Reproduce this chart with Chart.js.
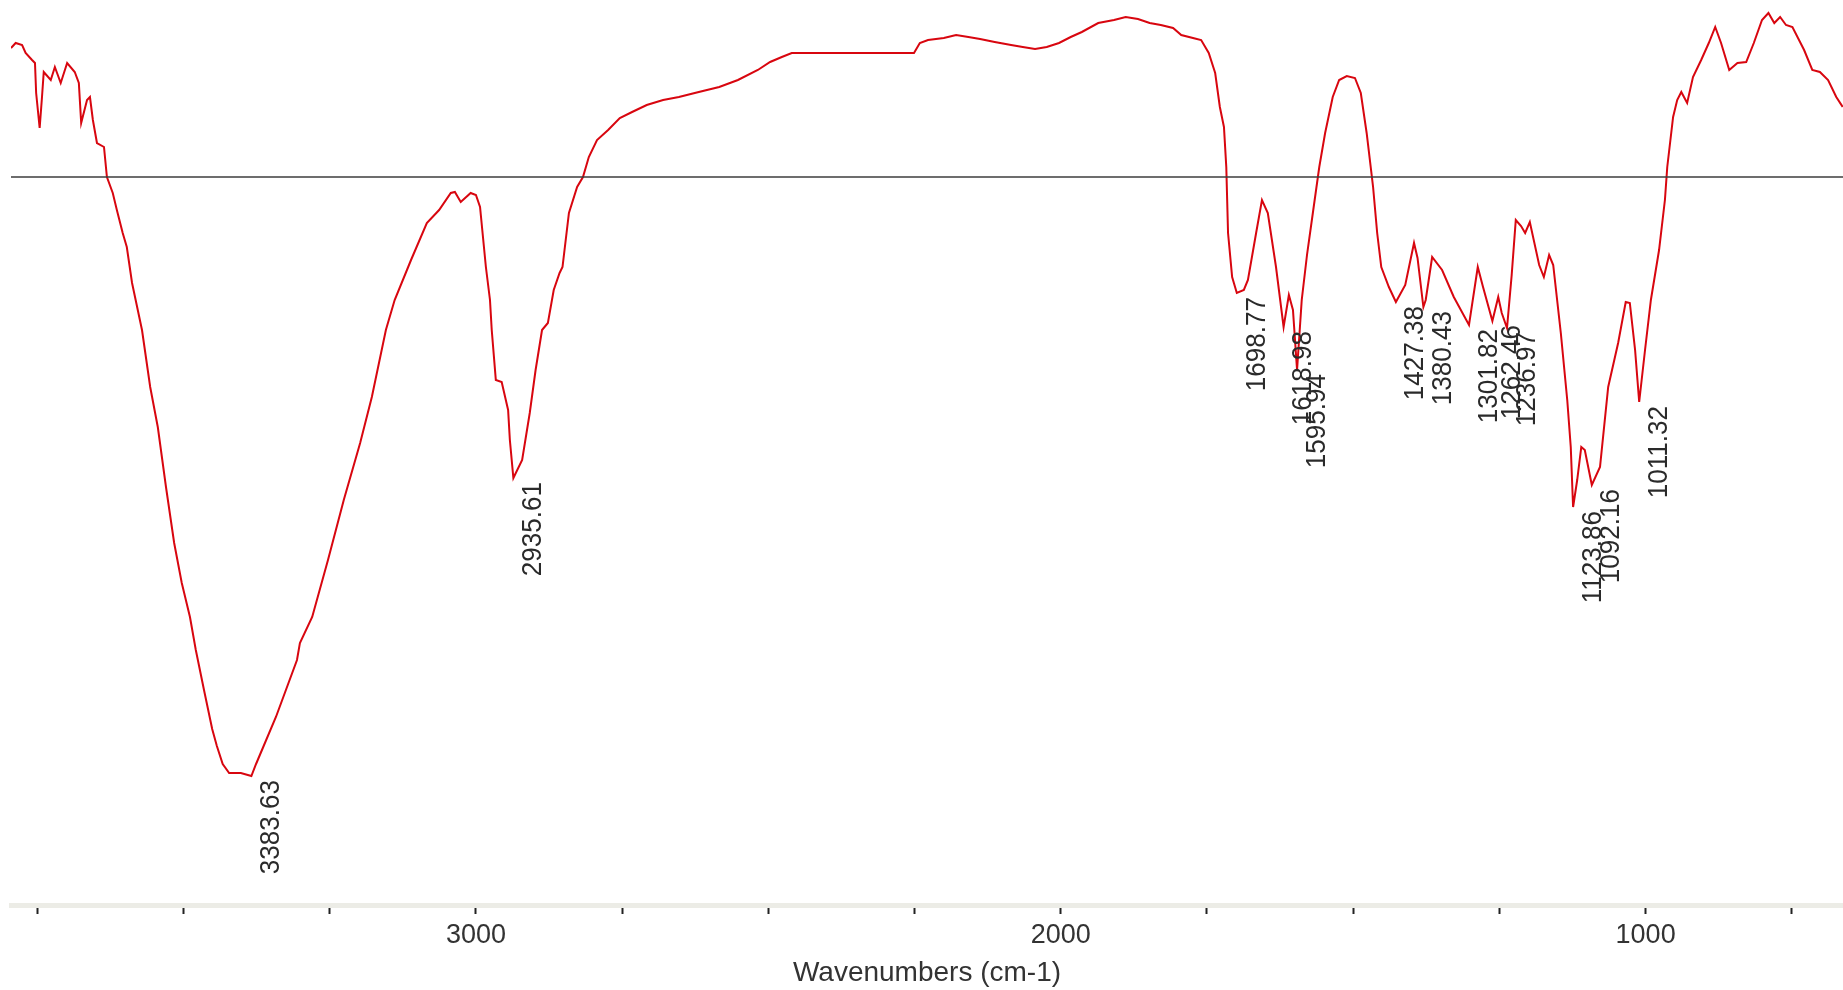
<!DOCTYPE html>
<html lang="en">
<head>
<meta charset="UTF-8">
<title>FTIR spectrum</title>
<script src="https://cdn.jsdelivr.net/npm/chart.js"></script>
<style>
  body { margin: 0; background: #ffffff; }
  #wrap { width: 1843px; height: 990px; }
</style>
</head>
<body>
<div id="wrap"><canvas id="irChart" width="1843" height="990"></canvas></div>
<script>
// spectrum, left (high wavenumber) to right
const wavenumbers = [
  3795, 3787, 3776, 3770, 3759, 3754, 3752, 3746, 3742, 3739, 3727, 3720, 3710, 3699, 3686, 3679,
  3675, 3665, 3660, 3655, 3648, 3636, 3631, 3621, 3614, 3604, 3597, 3588, 3571, 3557, 3544, 3530,
  3516, 3503, 3489, 3479, 3465, 3451, 3443, 3433, 3422, 3402, 3384, 3376, 3363, 3342, 3306, 3301,
  3280, 3253, 3226, 3198, 3178, 3154, 3139, 3111, 3084, 3063, 3043, 3036, 3026, 3009, 3000, 2993,
  2983, 2976, 2973, 2966, 2956, 2945, 2942, 2936, 2921, 2908, 2898, 2887, 2877, 2867, 2857, 2852,
  2841, 2827, 2817, 2807, 2793, 2774, 2754, 2733, 2708, 2680, 2653, 2619, 2584, 2552, 2518, 2497,
  2477, 2460, 2251, 2241, 2227, 2200, 2179, 2158, 2138, 2113, 2085, 2065, 2044, 2024, 2003, 1983,
  1964, 1936, 1909, 1889, 1868, 1848, 1829, 1808, 1794, 1774, 1760, 1747, 1736, 1728, 1721, 1717,
  1714, 1707, 1699, 1687, 1680, 1666, 1656, 1646, 1632, 1619, 1610, 1603, 1596, 1588, 1579, 1569,
  1558, 1548, 1535, 1524, 1511, 1497, 1487, 1477, 1466, 1459, 1452, 1439, 1427, 1411, 1396, 1390,
  1380, 1376, 1365, 1348, 1328, 1302, 1287, 1278, 1262, 1252, 1246, 1237, 1229, 1222, 1213, 1206,
  1198, 1182, 1174, 1165, 1158, 1145, 1134, 1128, 1124, 1117, 1110, 1104, 1092, 1078, 1064, 1047,
  1034, 1027, 1018, 1011, 1001, 991, 977, 967, 963, 953, 946, 939, 929, 919, 905, 892,
  881, 871, 857, 843, 828, 815, 801, 790, 780, 770, 760, 749, 729, 715, 702, 688,
  674, 663
];
const transmittance = [
  85.7, 86.2, 86.0, 85.2, 84.5, 84.2, 81.2, 77.7, 80.8, 83.3, 82.5, 83.8, 82.2, 84.2, 83.3, 82.2,
  78.2, 80.5, 80.8, 78.5, 76.2, 75.8, 72.8, 71.2, 69.5, 67.2, 65.8, 62.2, 57.5, 51.8, 47.8, 41.8,
  36.2, 32.2, 28.8, 25.5, 21.5, 17.6, 15.9, 14.1, 13.2, 13.2, 12.9, 14.1, 15.9, 18.8, 24.5, 26.2,
  28.8, 34.5, 40.5, 46.2, 50.8, 57.5, 60.5, 64.5, 68.2, 69.5, 71.2, 71.3, 70.3, 71.2, 71.0, 69.8,
  63.8, 60.5, 57.5, 52.5, 52.3, 49.5, 46.5, 42.7, 44.5, 49.2, 53.5, 57.5, 58.2, 61.5, 63.2, 63.8,
  69.2, 71.8, 72.8, 74.8, 76.5, 77.5, 78.7, 79.3, 80.0, 80.5, 80.8, 81.3, 81.8, 82.5, 83.5, 84.3,
  84.8, 85.2, 85.2, 86.2, 86.5, 86.7, 87.0, 86.8, 86.6, 86.3, 86.0, 85.8, 85.6, 85.8, 86.2, 86.8,
  87.3, 88.2, 88.5, 88.8, 88.6, 88.2, 88.0, 87.7, 87.0, 86.7, 86.5, 85.2, 83.2, 79.8, 77.8, 73.8,
  67.2, 62.8, 61.2, 61.5, 62.5, 67.2, 70.5, 69.2, 63.8, 57.8, 61.0, 59.5, 53.5, 60.5, 65.0, 69.2,
  73.8, 77.2, 80.8, 82.5, 82.9, 82.7, 81.2, 77.2, 71.8, 67.2, 63.8, 61.8, 60.3, 62.0, 66.2, 64.7,
  59.8, 60.5, 64.8, 63.5, 60.8, 58.0, 63.8, 61.8, 58.4, 60.8, 59.2, 57.7, 63.0, 68.5, 67.9, 67.2,
  68.3, 64.0, 62.8, 65.0, 64.0, 57.2, 50.5, 45.8, 39.8, 42.5, 45.8, 45.5, 42.0, 43.8, 51.8, 56.2,
  60.3, 60.2, 55.5, 50.3, 55.5, 60.5, 65.5, 70.5, 73.8, 78.8, 80.5, 81.3, 80.2, 82.8, 84.5, 86.2,
  87.8, 86.2, 83.5, 84.2, 84.3, 86.2, 88.5, 89.2, 88.2, 88.8, 88.0, 87.8, 85.5, 83.5, 83.3, 82.5,
  80.8, 79.8
];
const referenceLevel = 72.8;

// picked peaks
const peakLabels = ['3383.63', '2935.61', '1698.77', '1618.98', '1595.94', '1427.38', '1380.43',
  '1301.82', '1262.46', '1236.97', '1123.86', '1092.16', '1011.32'];
const peakDepths = [12.9, 42.7, 61.2, 57.8, 53.5, 60.3, 59.8, 58.0, 58.4, 57.7, 39.8, 42.0, 50.3];

const xMin = 662.5, xMax = 3795;
const labelFont = '"Liberation Sans", Arial, sans-serif';

const spectrum = wavenumbers.map((w, i) => ({ x: w, y: transmittance[i] }));

const peakLabelPlugin = {
    id: 'peakLabels',
    afterDatasetsDraw(chart) {
        const { ctx, scales: { x, y } } = chart;
        ctx.save();
        ctx.fillStyle = '#2a2a2a';
        ctx.font = '28px ' + labelFont;
        ctx.textAlign = 'right';
        ctx.textBaseline = 'top';
        peakLabels.forEach((txt, i) => {
            const px = x.getPixelForValue(parseFloat(txt));
            const py = y.getPixelForValue(peakDepths[i]);
            ctx.save();
            ctx.translate(px + 6, py + 4);
            ctx.rotate(-Math.PI / 2);
            ctx.scale(0.93, 1);
            ctx.fillText(txt, 0, 0);
            ctx.restore();
        });
        ctx.restore();
    }
};

new Chart(document.getElementById('irChart'), {
    type: 'line',
    data: {
        datasets: [{
            data: [{ x: xMax, y: referenceLevel }, { x: xMin, y: referenceLevel }],
            borderColor: '#3c3c3c',
            borderWidth: 1.6,
            pointRadius: 0
        }, {
            data: spectrum,
            borderColor: '#d8060f',
            borderWidth: 2,
            pointRadius: 0,
            tension: 0
        }]
    },
    options: {
        responsive: false,
        animation: false,
        layout: { padding: { top: 5, left: 11, right: 0, bottom: 0 } },
        plugins: { legend: { display: false }, tooltip: { enabled: false } },
        scales: {
            x: {
                type: 'linear',
                reverse: true,
                min: xMin,
                max: xMax,
                border: { display: true, color: '#ecece6', width: 5 },
                grid: { drawOnChartArea: false, tickLength: 9, tickWidth: 2, tickColor: '#222' },
                ticks: {
                    stepSize: 250,
                    includeBounds: false,
                    autoSkip: false,
                    maxRotation: 0,
                    padding: 5,
                    color: '#333',
                    font: { family: labelFont, size: 27 },
                    callback: v => (v % 1000 === 0 ? String(v) : '')
                },
                title: {
                    display: true,
                    text: 'Wavenumbers (cm-1)',
                    color: '#333',
                    font: { family: labelFont, size: 28 },
                    padding: { top: 0, bottom: 0 }
                }
            },
            y: { display: false, min: 0, max: 90 }
        }
    },
    plugins: [peakLabelPlugin]
});
</script>
</body>
</html>
